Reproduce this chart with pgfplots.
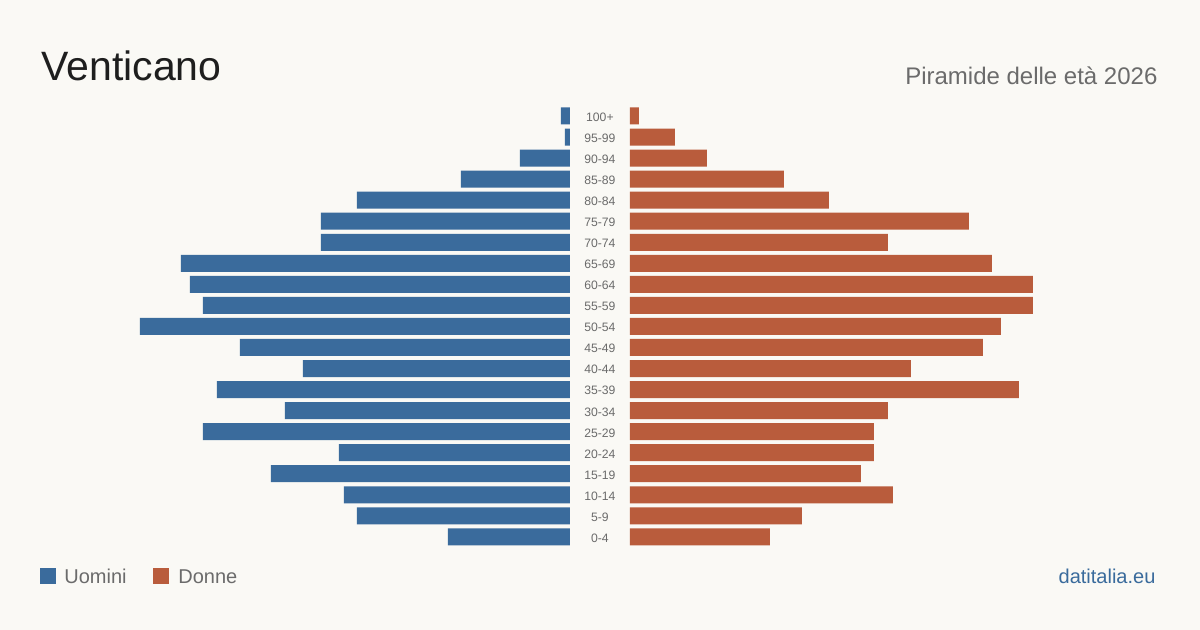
\documentclass[border=0pt]{standalone}
\usepackage{pgfplots}
\pgfplotsset{compat=1.18}
\usepackage{fontspec}
\setmainfont{Liberation Sans}
\definecolor{bg}{HTML}{FAF9F5}
\definecolor{men}{HTML}{3A6B9C}
\definecolor{women}{HTML}{B95C3C}
\definecolor{txt}{HTML}{1E1E1E}
\definecolor{sub}{HTML}{6B6B6B}
\begin{document}
\begin{tikzpicture}
\fill[bg] (0,0) rectangle (600pt,315pt);
\node[anchor=base west,inner sep=0,text=txt,font=\fontsize{20.5pt}{24pt}\selectfont] at (20.5pt,315pt-40.5pt) {Venticano};
\node[anchor=base east,inner sep=0,text=sub,font=\fontsize{12pt}{14pt}\selectfont] at (579pt,315pt-42.3pt) {Piramide delle età 2026};
% men (left)
\begin{axis}[
  at={(0pt,41.25pt)}, anchor=south west,
  width=285pt, height=221pt, scale only axis,
  xbar, bar width=8.5pt,
  xmin=0, xmax=570, x dir=reverse,
  ymin=-0.5, ymax=20.5,
  axis line style={draw=none}, xtick=\empty, ytick=\empty,
  major tick length=0pt, clip=false]
\addplot[fill=men, draw=none] coordinates {
(122,0) (213,1) (226,2) (299,3) (231,4) (367,5) (285,6) (353,7) (267,8) (330,9)
(430,10) (367,11) (380,12) (389,13) (249,14) (249,15) (213,16) (109,17) (50,18) (5,19) (9,20)};
\end{axis}
% women (right)
\begin{axis}[
  at={(315pt,41.25pt)}, anchor=south west,
  width=285pt, height=221pt, scale only axis,
  xbar, bar width=8.5pt,
  xmin=0, xmax=570,
  ymin=-0.5, ymax=20.5,
  axis line style={draw=none}, xtick=\empty,
  ytick={0,...,20},
  yticklabels={0-4,5-9,10-14,15-19,20-24,25-29,30-34,35-39,40-44,45-49,50-54,55-59,60-64,65-69,70-74,75-79,80-84,85-89,90-94,95-99,100+},
  yticklabel style={anchor=center, xshift=-15pt, yshift=-0.6pt, text=sub, font=\fontsize{6.1pt}{7pt}\selectfont, inner sep=0pt},
  major tick length=0pt, clip=false]
\addplot[fill=women, draw=none] coordinates {
(140,0) (172,1) (263,2) (231,3) (244,4) (244,5) (258,6) (389,7) (281,8) (353,9)
(371,10) (403,11) (403,12) (362,13) (258,14) (339,15) (199,16) (154,17) (77,18) (45,19) (9,20)};
\end{axis}
% legend
\fill[men] (20pt,315pt-284pt) rectangle (28pt,315pt-292pt);
\node[anchor=base west,inner sep=0,text=sub,font=\fontsize{10pt}{12pt}\selectfont] at (32pt,315pt-291.7pt) {Uomini};
\fill[women] (76.5pt,315pt-284pt) rectangle (84.5pt,315pt-292pt);
\node[anchor=base west,inner sep=0,text=sub,font=\fontsize{10pt}{12pt}\selectfont] at (89pt,315pt-291.7pt) {Donne};
\node[anchor=base east,inner sep=0,text=men,font=\fontsize{10pt}{12pt}\selectfont] at (578pt,315pt-291.7pt) {datitalia.eu};
\end{tikzpicture}
\end{document}
